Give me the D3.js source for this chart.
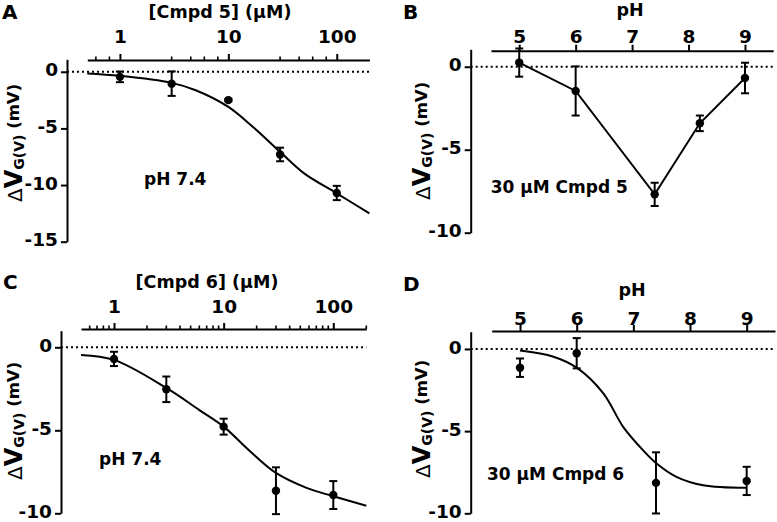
<!DOCTYPE html>
<html>
<head>
<meta charset="utf-8">
<script src="https://cdn.jsdelivr.net/npm/d3@7"></script>
<style>
	body { margin: 0; background: #fff; }
	text { font-family: "DejaVu Sans", sans-serif; font-weight: bold; fill: #000; }
</style>
</head>
<body>
<script>
// ---- data ----
// A: Cmpd 5 dose response at pH 7.4
const concA = [1, 3, 10, 30, 100];
const dvA = [-0.45, -1.05, -2.5, -7.3, -10.7];
const errA = [0.47, 1.08, 0.1, 0.6, 0.63];
const fitConcA = [0.5, 1, 3, 5, 10, 17, 30, 50, 100, 200];
const fitDvA = [-0.15, -0.36, -0.98, -1.63, -3.1, -4.9, -7.07, -8.97, -10.73, -12.5];

// B: 30 uM Cmpd 5 vs pH
const phB = [5, 6, 7.4, 8.2, 9];
const dvB = [0.25, -1.46, -7.69, -3.41, -0.68];
const errB = [0.85, 1.48, 0.7, 0.47, 0.92];

// C: Cmpd 6 dose response at pH 7.4
const concC = [1, 3, 10, 30, 100];
const dvC = [-0.7, -2.53, -4.78, -8.64, -8.9];
const errC = [0.43, 0.77, 0.48, 1.41, 0.84];
const fitConcC = [0.5, 1, 3, 6, 10, 17, 30, 57, 100, 200];
const fitDvC = [-0.46, -0.76, -2.45, -3.78, -4.78, -6.2, -7.57, -8.47, -8.97, -9.55];

// D: 30 uM Cmpd 6 vs pH
const phD = [5, 6, 7.4, 9];
const dvD = [-1.14, -0.26, -8.15, -8.03];
const errD = [0.56, 0.92, 1.86, 0.86];
const fitPhD = [5, 5.59, 6, 6.47, 6.82, 7.17, 7.41, 7.76, 8.23, 9];
const fitDvD = [-0.1, -0.47, -1.14, -2.7, -4.74, -6.16, -6.97, -7.78, -8.29, -8.45];

// tick values
const logMajor = [1, 10, 100];
const minorA = [0.6, 0.8, 3, 4.5, 6, 8, 30, 45, 60, 80];
const minorC = [0.6, 0.7, 0.8, 0.9, 2, 3, 4, 5, 6, 7, 8, 9, 20, 30, 40, 50, 60, 70, 80, 90, 200];
const phTicks = [5, 6, 7, 8, 9];
const yTicksA = [0, -5, -10, -15];
const yTicksB = [0, -5, -10];

const svg = d3.select("body").append("svg").attr("width", 777).attr("height", 522);

const drawPanel = (p) => {
	const g = svg.append("g");
	const x = p.log
		? d3.scaleLog().domain([0.5, 200]).range(p.xRange)
		: d3.scaleLinear().domain([4.5, 9.5]).range(p.xRange);
	const y = d3.scaleLinear().domain(p.yDomain).range(p.yRange);

	// dotted zero line
	g.append("line")
		.attr("x1", p.yAxisX).attr("x2", p.xRange[1])
		.attr("y1", y(0)).attr("y2", y(0))
		.attr("stroke", "#000").attr("stroke-width", 2)
		.attr("stroke-dasharray", "2,3");

	// top x axis
	const xAxis = d3.axisTop(x)
		.tickValues(p.xTicks)
		.tickFormat((d) => String(d))
		.tickSize(6).tickSizeOuter(0)
		.tickPadding(p.xPad);
	const gx = g.append("g").attr("transform", `translate(0,${p.xAxisY})`).call(xAxis);
	gx.selectAll("text").style("font-size", "18.5px").style("font-family", null);
	gx.selectAll("path, line").attr("stroke", "#000").attr("stroke-width", 2);

	if (p.minor) {
		g.selectAll(null).data(p.minor).enter().append("line")
			.attr("x1", (d) => x(d)).attr("x2", (d) => x(d))
			.attr("y1", p.xAxisY).attr("y2", p.xAxisY - 3.5)
			.attr("stroke", "#000").attr("stroke-width", 1.6);
	}

	// left y axis
	const yAxis = d3.axisLeft(y)
		.tickValues(p.yTicks)
		.tickFormat((d) => String(d))
		.tickSize(6).tickSizeOuter(0)
		.tickPadding(3);
	const gy = g.append("g").attr("transform", `translate(${p.yAxisX},0)`).call(yAxis);
	gy.selectAll("text").style("font-size", "18.5px").style("font-family", null).attr("dy", "0.22em");
	gy.selectAll("path, line").attr("stroke", "#000").attr("stroke-width", 2);

	// titles
	g.append("text").attr("x", p.titleX).attr("y", p.titleY)
		.attr("text-anchor", "middle").style("font-size", "17.5px").text(p.title);
	g.append("text").attr("x", p.letterX).attr("y", p.letterY)
		.style("font-size", "20px").text(p.letter);
	g.append("text").attr("x", p.noteX).attr("y", p.noteY)
		.style("font-size", "17px").text(p.note);

	// y label, rotated
	const lab = g.append("text").attr("transform", `translate(${p.labX},${p.labY}) rotate(-90)`);
	lab.append("tspan").text("Δ").style("font-weight", "normal").style("font-size", "20px");
	lab.append("tspan").text("V").style("font-size", "24px");
	lab.append("tspan").text("G(V)").style("font-size", "14px").attr("dy", 2);
	lab.append("tspan").text(" (mV)").style("font-size", "16.5px").attr("dy", -5);

	// fit or connecting line
	const line = d3.line().x((d) => x(d[0])).y((d) => y(d[1]))
		.curve(p.straight ? d3.curveLinear : d3.curveCatmullRom.alpha(0.5));
	const lx = p.lineX || p.xs;
	const ly = p.lineY || p.ys;
	g.append("path")
		.datum(lx.map((v, i) => [v, ly[i]]))
		.attr("d", line)
		.attr("fill", "none").attr("stroke", "#000").attr("stroke-width", 2);

	// error bars
	const pts = p.xs.map((v, i) => ({ x: v, y: p.ys[i], e: p.es[i] }));
	const eb = g.append("g").attr("stroke", "#000").attr("stroke-width", 2);
	pts.forEach((d) => {
		const cx = x(d.x);
		eb.append("line").attr("x1", cx).attr("x2", cx).attr("y1", y(d.y - d.e)).attr("y2", y(d.y + d.e));
		[d.y - d.e, d.y + d.e].forEach((v) => {
			eb.append("line").attr("x1", cx - 4).attr("x2", cx + 4).attr("y1", y(v)).attr("y2", y(v));
		});
	});
	g.selectAll(null).data(pts).enter().append("circle")
		.attr("cx", (d) => x(d.x)).attr("cy", (d) => y(d.y))
		.attr("r", 4.2).attr("fill", "#000");
};

drawPanel({
	log: true, xRange: [87.3, 369.4], xAxisY: 60, xTicks: logMajor, minor: minorA, xPad: 11,
	yAxisX: 67, yDomain: [-15, 1.1], yRange: [241.7, 59.3], yTicks: yTicksA,
	title: "[Cmpd 5] (μM)", titleX: 220, titleY: 18,
	letter: "A", letterX: 2, letterY: 19,
	note: "pH 7.4", noteX: 144, noteY: 185,
	labX: 22, labY: 202,
	xs: concA, ys: dvA, es: errA, lineX: fitConcA, lineY: fitDvA
});

drawPanel({
	log: false, xRange: [491, 773.2], xAxisY: 50.7, xTicks: phTicks, xPad: 2,
	yAxisX: 470.7, yDomain: [-10, 1.05], yRange: [232.7, 49.3], yTicks: yTicksB,
	title: "pH", titleX: 630, titleY: 16,
	letter: "B", letterX: 403, letterY: 19,
	note: "30 μM Cmpd 5", noteX: 490.7, noteY: 193,
	labX: 430, labY: 200,
	xs: phB, ys: dvB, es: errB, straight: true
});

drawPanel({
	log: true, xRange: [81, 366.3], xAxisY: 329, xTicks: logMajor, minor: minorC, xPad: 9.7,
	yAxisX: 61, yDomain: [-10, 1], yRange: [513.3, 330.7], yTicks: yTicksB,
	title: "[Cmpd 6] (μM)", titleX: 207, titleY: 288,
	letter: "C", letterX: 3, letterY: 289,
	note: "pH 7.4", noteX: 99, noteY: 465,
	labX: 22, labY: 480,
	xs: concC, ys: dvC, es: errC, lineX: fitConcC, lineY: fitDvC
});

drawPanel({
	log: false, xRange: [491.7, 775], xAxisY: 331, xTicks: phTicks, xPad: 0,
	yAxisX: 470.7, yDomain: [-10, 1.05], yRange: [513.3, 331.7], yTicks: yTicksB,
	title: "pH", titleX: 632, titleY: 296,
	letter: "D", letterX: 403, letterY: 291,
	note: "30 μM Cmpd 6", noteX: 487, noteY: 480,
	labX: 430, labY: 478,
	xs: phD, ys: dvD, es: errD, lineX: fitPhD, lineY: fitDvD
});
</script>
</body>
</html>
